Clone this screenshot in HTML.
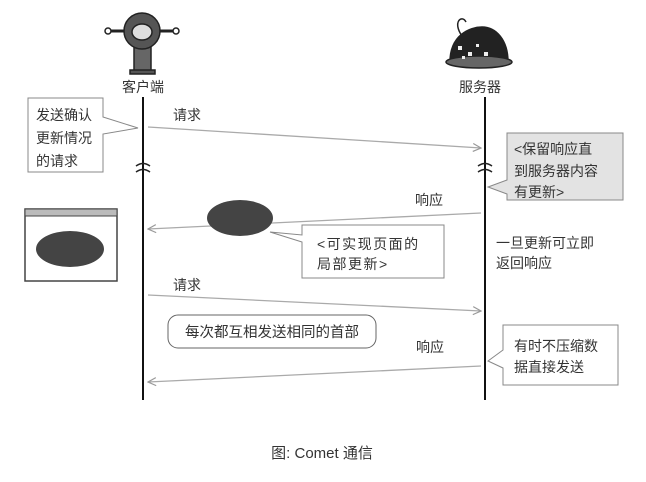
<!DOCTYPE html>
<html><head><meta charset="utf-8"><style>
body{margin:0;background:#fff;}
svg text{font-family:"Liberation Sans","Noto Sans CJK SC",sans-serif;fill:#333;}
</style></head><body>
<svg width="646" height="477" viewBox="0 0 646 477" xmlns="http://www.w3.org/2000/svg">
<defs><marker id="a" markerWidth="10" markerHeight="10" refX="9" refY="5" orient="auto" markerUnits="userSpaceOnUse"><path d="M1,1 L9,5 L1,9" fill="none" stroke="#999" stroke-width="1.2"/></marker></defs>
<!-- client robot -->
<g stroke="#222" stroke-width="1.5">
<line x1="108" y1="31" x2="176" y2="31" stroke-width="3"/>
<circle cx="108" cy="31" r="3" fill="#fff"/><circle cx="176" cy="31" r="3" fill="#fff"/>
<rect x="134" y="46" width="17" height="26" fill="#666"/>
<rect x="130" y="70" width="25" height="4" fill="#555"/>
<circle cx="142" cy="31" r="18" fill="#555"/>
<ellipse cx="142" cy="32" rx="10" ry="8" fill="#ddd"/>
</g>
<text x="143" y="92" font-size="14" text-anchor="middle">客户端</text>
<!-- server dome -->
<g stroke="#222" stroke-width="1.5">
<path d="M462,36 C452,22 462,14 466,22" fill="none"/>
<path d="M450,62 C450,35 470,27 482,27 C496,27 508,40 508,62 Z" fill="#222"/>
<ellipse cx="479" cy="62" rx="33" ry="6" fill="#666"/>
</g>
<g fill="#eee"><rect x="458" y="46" width="4" height="4"/><rect x="468" y="52" width="4" height="4"/><rect x="476" y="44" width="3" height="3"/><rect x="484" y="52" width="4" height="4"/><rect x="462" y="56" width="3" height="3"/></g>
<text x="480" y="92" font-size="14" text-anchor="middle">服务器</text>
<!-- lifelines -->
<line x1="143" y1="97" x2="143" y2="400" stroke="#111" stroke-width="2"/>
<line x1="485" y1="97" x2="485" y2="400" stroke="#111" stroke-width="2"/>
<g fill="none" stroke="#222" stroke-width="1.5">
<path d="M136,166 q7,-5 14,0"/><path d="M136,172 q7,-5 14,0"/>
<path d="M478,166 q7,-5 14,0"/><path d="M478,172 q7,-5 14,0"/>
</g>
<!-- arrows -->
<g stroke="#aaa" stroke-width="1.3" fill="none" marker-end="url(#a)">
<line x1="148" y1="127" x2="481" y2="148"/>
<line x1="481" y1="213" x2="148" y2="229"/>
<line x1="148" y1="295" x2="481" y2="311"/>
<line x1="481" y1="366" x2="148" y2="382"/>
</g>
<text x="173" y="120" font-size="14">请求</text>
<text x="415" y="205" font-size="14">响应</text>
<text x="173" y="290" font-size="14">请求</text>
<text x="416" y="352" font-size="14">响应</text>
<!-- left callout -->
<path d="M28,98 H103 V117 L138,128 L103,134 V172 H28 Z" fill="#fff" stroke="#888" stroke-width="1"/>
<text font-size="14"><tspan x="36" y="120">发送确认</tspan><tspan x="36" y="143">更新情况</tspan><tspan x="36" y="166">的请求</tspan></text>
<!-- server gray callout -->
<path d="M507,133 H623 V200 H507 V194 L488,187 L507,180 Z" fill="#e3e3e3" stroke="#888" stroke-width="1"/>
<text font-size="14"><tspan x="514" y="154">&lt;保留响应直</tspan><tspan x="514" y="176">到服务器内容</tspan><tspan x="514" y="197">有更新&gt;</tspan></text>
<!-- ellipse -->
<ellipse cx="240" cy="218" rx="33" ry="18" fill="#444"/>
<path d="M302,225 H444 V278 H302 V242 L270,232 L302,235 Z" fill="#fff" stroke="#888" stroke-width="1"/>
<text font-size="14" letter-spacing="1.5"><tspan x="317" y="249">&lt;可实现页面的</tspan><tspan x="317" y="269">局部更新&gt;</tspan></text>
<text font-size="14"><tspan x="496" y="248">一旦更新可立即</tspan><tspan x="496" y="268">返回响应</tspan></text>
<!-- browser -->
<rect x="25" y="209" width="92" height="72" fill="#fff" stroke="#444" stroke-width="1.5"/>
<rect x="25" y="209" width="92" height="7" fill="#bbb" stroke="#444" stroke-width="1"/>
<ellipse cx="70" cy="249" rx="34" ry="18" fill="#444"/>
<!-- rounded label -->
<rect x="168" y="315" width="208" height="33" rx="10" fill="#fff" stroke="#666" stroke-width="1"/>
<text x="272" y="337" font-size="14.5" text-anchor="middle">每次都互相发送相同的首部</text>
<!-- right bottom callout -->
<path d="M503,325 H618 V385 H503 V368 L488,361 L503,350 Z" fill="#fff" stroke="#888" stroke-width="1"/>
<text font-size="14"><tspan x="514" y="351">有时不压缩数</tspan><tspan x="514" y="372">据直接发送</tspan></text>
<text x="322" y="458" font-size="15" text-anchor="middle" fill="#222">图: Comet 通信</text>
</svg>
</body></html>
